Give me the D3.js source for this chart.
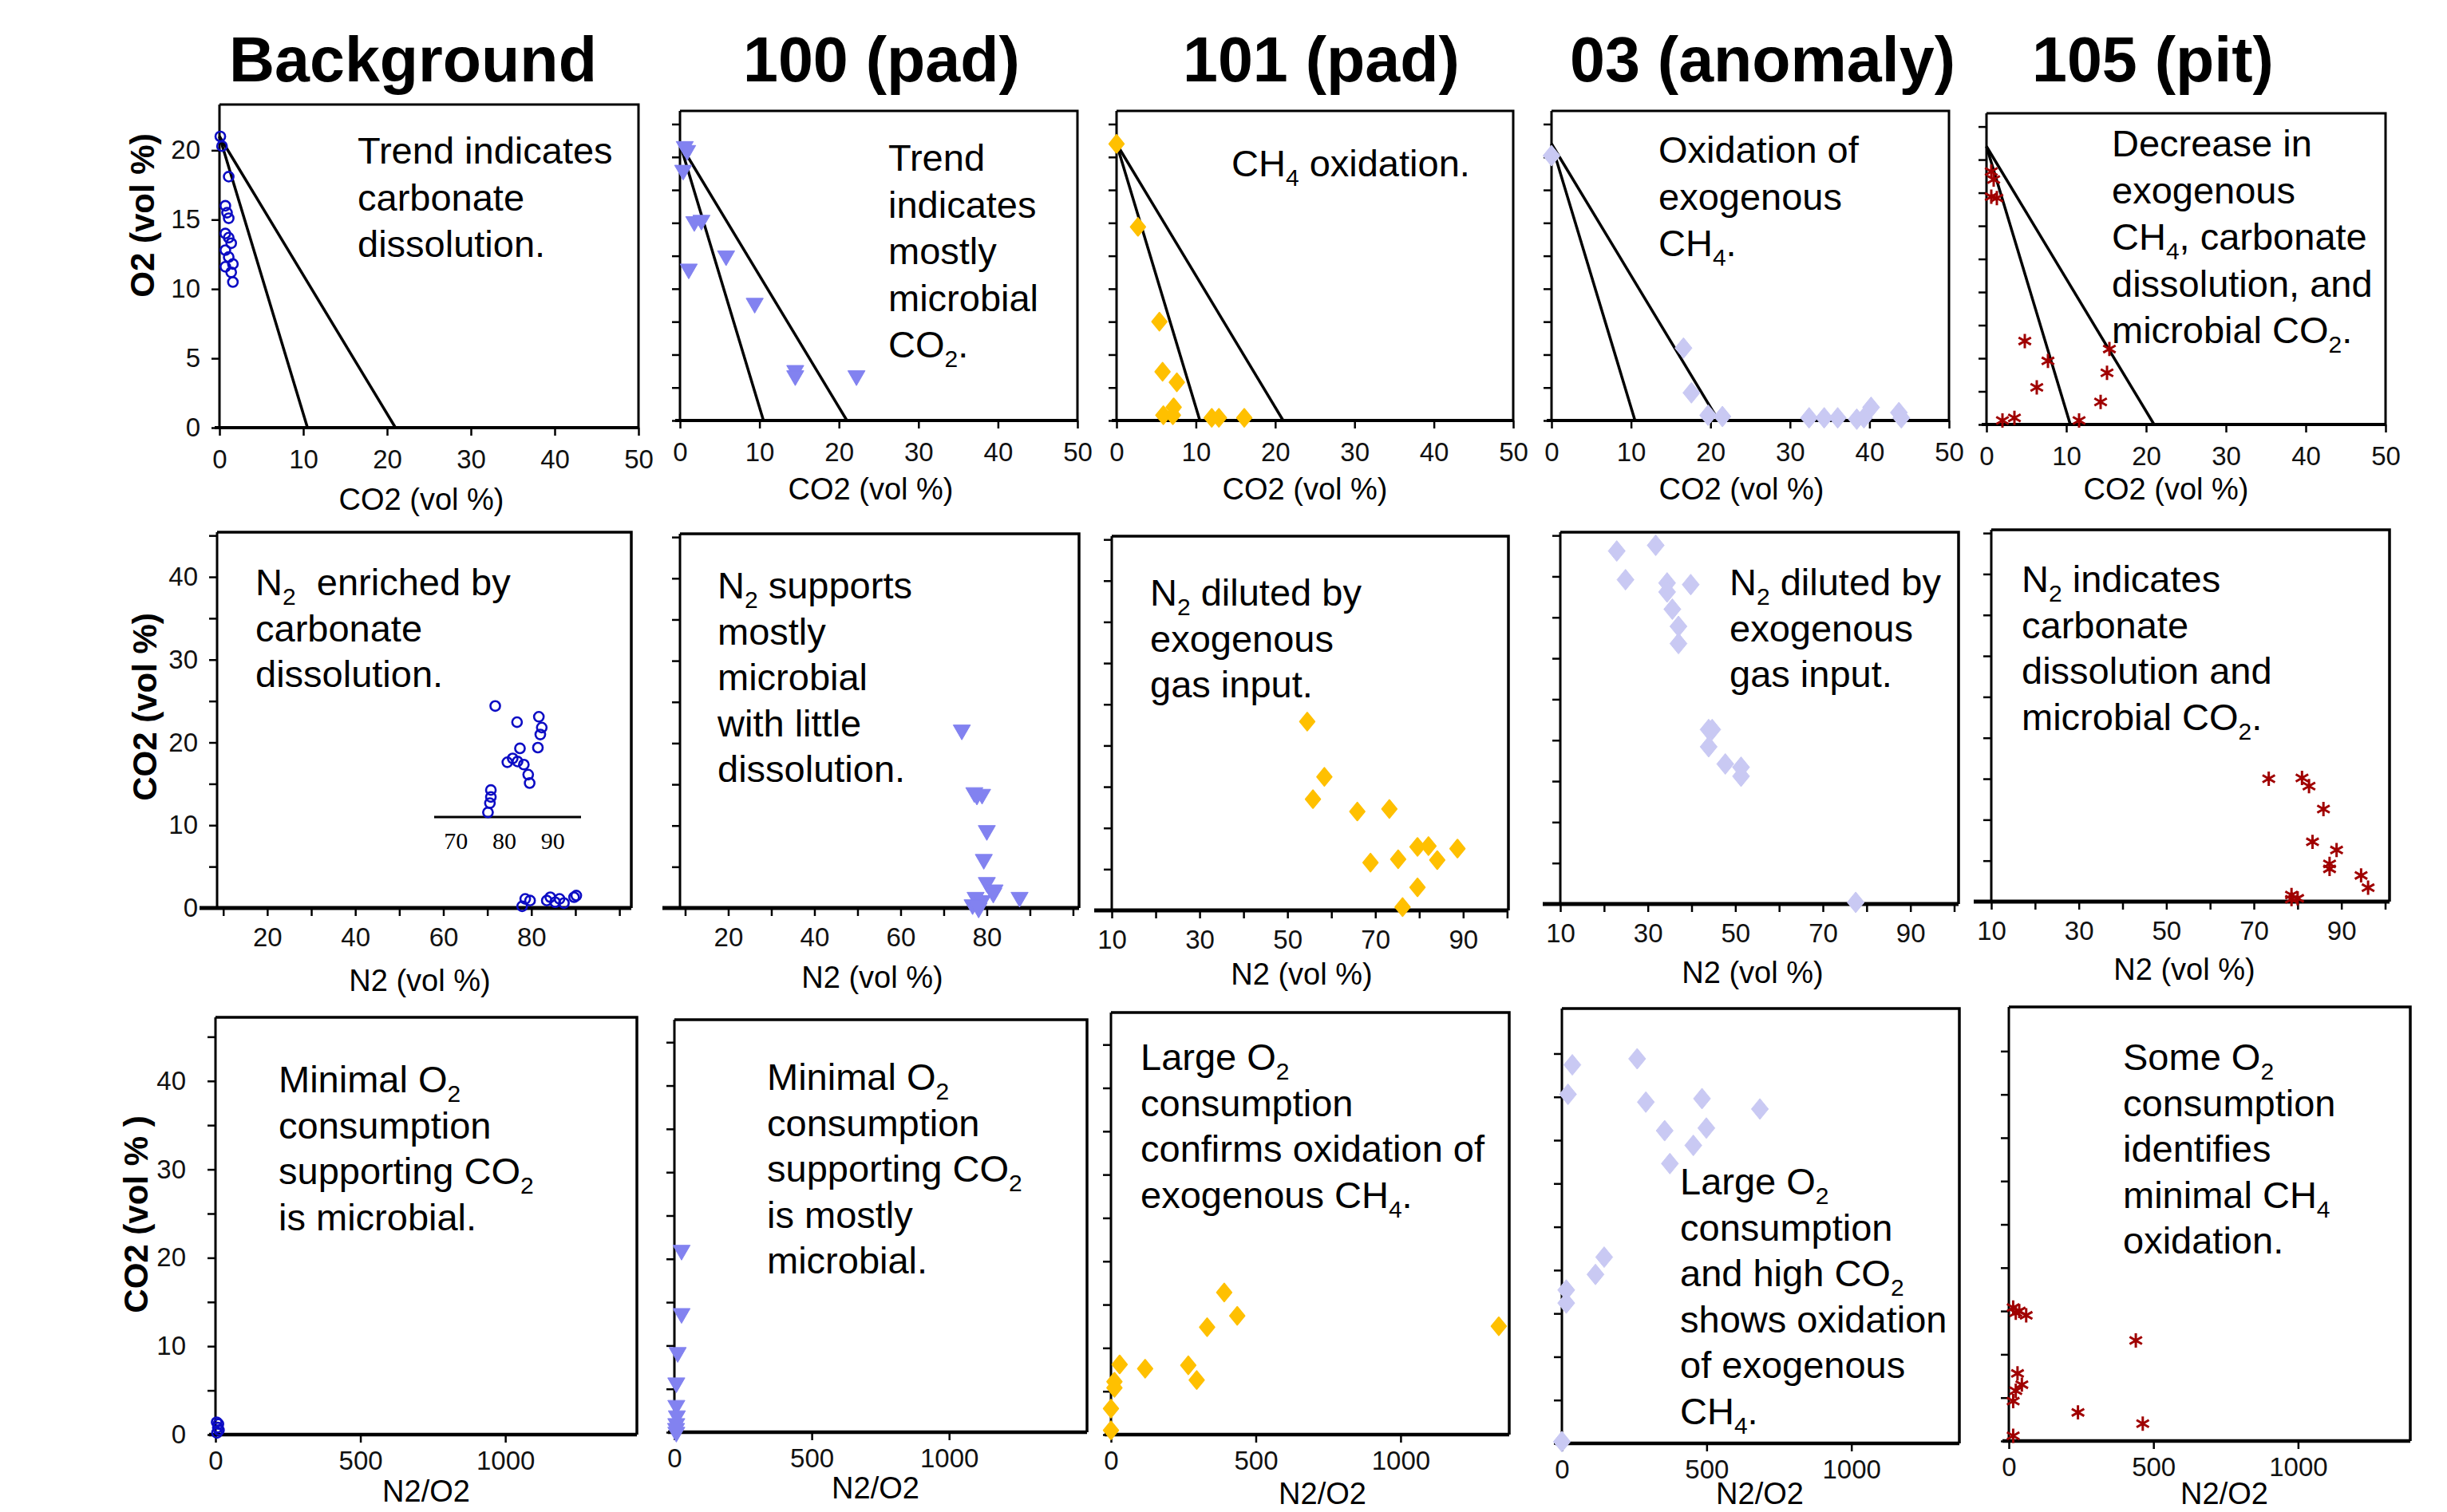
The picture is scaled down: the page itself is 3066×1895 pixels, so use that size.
<!DOCTYPE html>
<html>
<head>
<meta charset="utf-8">
<script src="https://cdn.jsdelivr.net/npm/d3@7"></script>
<style>
  body { margin: 0; background: #fff; }
  svg { display: block; font-family: "Liberation Sans", Arial, sans-serif; }
  .note { font-size: 47px; white-space: pre; }
  .site { font-size: 79px; font-weight: bold; }
  .xtitle { font-size: 38px; }
  .ytitle { font-size: 42px; font-weight: bold; }
</style>
</head>
<body>
<div id="chart"></div>
<script>
// ----- Data -----
const sites = ["Background", "100 (pad)", "101 (pad)", "03 (anomaly)", "105 (pit)"];

// Row 1: [CO2, O2] vol %
const bgCO2O2 = [[0.1,21.0],[0.3,20.3],[1.1,18.1],[0.7,16.0],[0.9,15.5],[1.1,15.1],[0.7,14.0],[1.1,13.7],[1.4,13.3],[0.7,12.8],[1.1,12.3],[1.6,11.8],[0.7,11.6],[1.4,11.2],[1.6,10.5]];
const pad100CO2O2 = [[0.6,20.8],[0.9,20.5],[0.4,19.0],[1.8,15.1],[2.7,15.2],[5.8,12.5],[1.1,11.5],[9.4,8.9],[14.5,3.8],[14.5,3.4],[22.2,3.4]];
const pad101CO2O2 = [[0,21.0],[2.7,14.7],[5.4,7.5],[5.8,3.7],[7.6,2.9],[7.2,1.0],[5.9,0.4],[7.1,0.4],[12.0,0.2],[12.9,0.2],[16.1,0.2]];
const anom03CO2O2 = [[0,20.1],[16.6,5.5],[17.6,2.1],[19.7,0.4],[21.5,0.3],[32.4,0.2],[34.3,0.2],[36.0,0.2],[38.4,0.1],[39.3,0.2],[40.2,1.0],[43.7,0.6],[44.0,0.2]];
const pit105CO2O2 = [[0.6,19.1],[0.9,18.5],[0.6,17.2],[1.3,17.1],[4.8,6.3],[7.7,4.8],[15.4,5.7],[15.1,3.9],[6.3,2.8],[14.3,1.7],[2.0,0.3],[3.5,0.5],[11.6,0.3]];
// air O2 consumed by carbonate dissolution / microbial respiration
const refLines = [[[0, 21], [10.5, 0]], [[0, 21], [21, 0]]];

// Row 2: [N2, CO2] vol %
const bgN2CO2 = [[78.6,1.1],[77.9,0.2],[79.7,0.9],[83.5,0.9],[84.3,1.3],[85.4,0.7],[86.4,1.1],[87.4,0.6],[89.7,1.3],[90.2,1.5]];
const bgInsetN2CO2 = [[78.1,1.44],[82.6,1.23],[87.1,1.30],[87.7,1.16],[87.4,1.07],[86.9,0.90],[83.2,0.89],[81.7,0.76],[80.6,0.71],[82.7,0.72],[84.0,0.68],[84.9,0.55],[85.2,0.44],[77.2,0.35],[77.2,0.26],[77.0,0.18],[76.6,0.06]];
const pad100N2CO2 = [[74.2,21.6],[77.1,14.0],[78.9,13.8],[77.7,13.7],[80.0,9.4],[79.3,5.9],[80.0,3.1],[81.8,2.2],[81.5,1.8],[77.4,1.3],[78.9,0.9],[76.7,0.4],[78.1,0.0],[87.6,1.3]];
const pad101N2CO2 = [[54.5,22.9],[58.4,16.2],[55.8,13.5],[65.9,12.0],[73.2,12.3],[79.6,7.7],[82.1,7.8],[88.7,7.5],[68.9,5.8],[75.2,6.2],[84.1,6.1],[79.6,2.8],[76.2,0.4]];
const anom03N2CO2 = [[22.9,43.1],[31.8,43.8],[24.9,39.6],[34.4,39.2],[34.4,38.1],[39.8,39.0],[35.6,36.0],[37.0,33.9],[37.0,31.8],[43.9,21.3],[44.7,21.3],[43.9,19.2],[47.7,17.1],[51.3,16.7],[51.3,15.6],[77.5,0.2]];
const pit105N2CO2 = [[73.4,15.0],[81.0,15.1],[82.6,14.1],[85.9,11.3],[83.4,7.3],[88.9,6.3],[87.3,4.6],[87.3,4.0],[94.5,3.2],[96.1,1.7],[78.6,0.8],[80.0,0.4],[78.6,0.3]];

// Row 3: [N2/O2, CO2]
const bgRatioCO2 = [[5,0.2],[8,0.8],[10,1.2],[4,1.4],[12,0.5]];
const pad100RatioCO2 = [[26,21.0],[26,13.7],[12,9.2],[7,5.7],[7,3.1],[9,1.9],[7,1.0],[6,0.45],[7,0]];
const pad101RatioCO2 = [[391,16.4],[436,13.7],[332,12.4],[1339,12.5],[30,8.1],[118,7.6],[267,8.0],[296,6.3],[12,6.1],[12,5.4],[0,3.0],[0,0.5]];
const anom03RatioCO2 = [[36,43.7],[21,40.3],[260,44.4],[290,39.4],[484,39.8],[684,38.6],[499,36.4],[355,36.1],[454,34.4],[373,32.3],[146,21.5],[116,19.5],[15,17.7],[15,16.2],[0,0.2]];
const pit105RatioCO2 = [[15,15.4],[36,15.0],[60,14.5],[24,14.8],[439,11.6],[30,7.8],[45,6.5],[24,5.8],[15,4.6],[239,3.3],[463,2.0],[15,0.6]];

// Ticks
const co2Ticks = [0, 10, 20, 30, 40, 50];
const o2Ticks = [0, 5, 10, 15, 20];
const o2MinorTicks = [0, 2.5, 5, 7.5, 10, 12.5, 15, 17.5, 20, 22.5];
const n2Ticks = [10, 20, 30, 40, 50, 60, 70, 80, 90, 100];
const n2LabelsA = [20, 40, 60, 80];
const n2LabelsB = [10, 30, 50, 70, 90];
const co2Ticks5 = [0, 5, 10, 15, 20, 25, 30, 35, 40, 45];
const co2Labels = [0, 10, 20, 30, 40];
const ratioTicks = [0, 500, 1000];
const insetTicks = [70, 80, 90];

// Annotations ({} = subscript)
const notesO2 = [
  ["Trend indicates", "carbonate", "dissolution."],
  ["Trend", "indicates", "mostly", "microbial", "CO{2}."],
  ["CH{4} oxidation."],
  ["Oxidation of", "exogenous", "CH{4}."],
  ["Decrease in", "exogenous", "CH{4}, carbonate", "dissolution, and", "microbial CO{2}."]
];
const notesN2 = [
  ["N{2}  enriched by", "carbonate", "dissolution."],
  ["N{2} supports", "mostly", "microbial", "with little", "dissolution."],
  ["N{2} diluted by", "exogenous", "gas input."],
  ["N{2} diluted by", "exogenous", "gas input."],
  ["N{2} indicates", "carbonate", "dissolution and", "microbial CO{2}."]
];
const notesRatio = [
  ["Minimal O{2}", "consumption", "supporting CO{2}", "is microbial."],
  ["Minimal O{2}", "consumption", "supporting CO{2}", "is mostly", "microbial."],
  ["Large O{2}", "consumption", "confirms oxidation of", "exogenous CH{4}."],
  ["Large O{2}", "consumption", "and high CO{2}", "shows oxidation", "of exogenous", "CH{4}."],
  ["Some O{2}", "consumption", "identifies", "minimal CH{4}", "oxidation."]
];

// ----- Layout -----
const width = 3066, height = 1895;
const siteX = [287, 931, 1482, 1967, 2546];

const rows = [
  {
    series: [bgCO2O2, pad100CO2O2, pad101CO2O2, anom03CO2O2, pit105CO2O2],
    notes: notesO2, refLines: refLines,
    xTitle: "CO2 (vol %)", yTitle: "O2 (vol %)", xTitleSize: 38,
    boxes: [[275,131,800,536],[852,139,1350,527],[1399,139,1896,527],[1944,139,2442,527],[2489,142,2989,532]],
    xDomains: [[0,50],[0,50],[0,50],[0,50],[0,50]],
    yMax: [23.3, 23.5, 23.5, 23.5, 23.5],
    xTicks: co2Ticks, xLabels: [co2Ticks, co2Ticks, co2Ticks, co2Ticks, co2Ticks],
    yTicks: [o2Ticks, o2MinorTicks, o2MinorTicks, o2MinorTicks, o2MinorTicks],
    yLabels: [o2Ticks, [], [], [], []],
    notePos: [[448,205],[1113,214],[1543,221],[2078,204],[2646,196]], noteStep: 58.5,
    xTitlePos: [[528,639],[1091,626],[1635,626],[2182,626],[2714,626]],
    yTitlePos: [193, 270],
    xPad: 18, yPad: 14, axisExt: 6, xAxisW: 4, frameW: 3
  },
  {
    series: [bgN2CO2, pad100N2CO2, pad101N2CO2, anom03N2CO2, pit105N2CO2],
    notes: notesN2,
    xTitle: "N2 (vol %)", yTitle: "CO2 (vol %)", xTitleSize: 38,
    boxes: [[272,667,791,1138],[852,669,1352,1138],[1393,672,1890,1141],[1955,667,2454,1133],[2495,664,2994,1130]],
    xDomains: [[8.6,102.7],[8.8,101.4],[10,100.3],[10,101],[10,101]],
    yMax: [45.4, 45.4, 45.4, 45.4, 45.4],
    xTicks: n2Ticks, xLabels: [n2LabelsA, n2LabelsA, n2LabelsB, n2LabelsB, n2LabelsB],
    yTicks: [co2Ticks5, co2Ticks5, co2Ticks5, co2Ticks5, co2Ticks5],
    yLabels: [co2Labels, [], [], [], []],
    notePos: [[320,746],[899,750],[1441,759],[2167,746],[2533,742]], noteStep: 57.5,
    xTitlePos: [[526,1242],[1093,1238],[1631,1234],[2196,1232],[2737,1228]],
    yTitlePos: [196, 886],
    xPad: 15, yPad: 14, axisExt: 22, xAxisW: 5, frameW: 3.5
  },
  {
    series: [bgRatioCO2, pad100RatioCO2, pad101RatioCO2, anom03RatioCO2, pit105RatioCO2],
    notes: notesRatio,
    xTitle: "N2/O2", yTitle: "CO2 (vol % )", xTitleSize: 36,
    boxes: [[270,1275,798,1798],[845,1278,1362,1795],[1392,1269,1891,1798],[1957,1264,2455,1809],[2517,1262,3020,1806]],
    xDomains: [[0,1454],[0,1502],[0,1375],[0,1373],[0,1388]],
    yMax: [47.2, 47.6, 48.7, 50.2, 50.1],
    xTicks: ratioTicks, xLabels: [ratioTicks, ratioTicks, ratioTicks, ratioTicks, ratioTicks],
    yTicks: [co2Ticks5, co2Ticks5, co2Ticks5, co2Ticks5, co2Ticks5],
    yLabels: [co2Labels, [], [], [], []],
    notePos: [[349,1369],[961,1366],[1429,1341],[2105,1497],[2660,1341]], noteStep: 57.5,
    xTitlePos: [[534,1882],[1097,1878],[1657,1885],[2205,1885],[2787,1885]],
    yTitlePos: [185, 1522],
    xPad: 11, yPad: 27, axisExt: 8, xAxisW: 4.5, frameW: 3.5
  }
];

// ----- Marker shapes -----
const diamond = {
  draw(ctx, size) {
    const r = Math.sqrt(size) / 2;
    ctx.moveTo(0, -r * 1.1);
    ctx.lineTo(r * 0.9, 0);
    ctx.lineTo(0, r * 1.1);
    ctx.lineTo(-r * 0.9, 0);
    ctx.closePath();
  }
};
const asterisk = {
  draw(ctx, size) {
    const r = Math.sqrt(size) / 2;
    for (let k = 0; k < 3; k++) {
      const a = Math.PI / 2 + k * Math.PI / 3;
      ctx.moveTo(r * Math.cos(a), r * Math.sin(a));
      ctx.lineTo(-r * Math.cos(a), -r * Math.sin(a));
    }
  }
};
const pointStyles = [
  { shape: d3.symbolCircle, size: 115, fill: "none", stroke: "#0c0cc4", width: 2.6, rotate: 0 },
  { shape: d3.symbolTriangle, size: 200, fill: "#8282f0", stroke: "#8282f0", width: 1, rotate: 180 },
  { shape: diamond, size: 420, fill: "#ffc000", stroke: "#ffc000", width: 2, rotate: 0 },
  { shape: diamond, size: 560, fill: "#c9c9f3", stroke: "#c9c9f3", width: 1, rotate: 0 },
  { shape: asterisk, size: 320, fill: "none", stroke: "#a00000", width: 3, rotate: 0 }
];

// ----- SVG setup -----
const svg = d3.select("#chart")
  .append("svg")
  .attr("width", width)
  .attr("height", height)
  .attr("viewBox", [0, 0, width, height]);

svg.append("rect").attr("width", width).attr("height", height).attr("fill", "#fff");

svg.selectAll("text.site")
  .data(sites)
  .join("text")
  .attr("class", "site")
  .attr("x", (d, i) => siteX[i])
  .attr("y", 102)
  .text(d => d);

// text with {} subscripts
function writeRich(sel, str) {
  let shifted = false;
  str.split(/(\{[^}]*\})/).filter(s => s).forEach(s => {
    if (s[0] === "{") {
      sel.append("tspan").attr("dy", 12).attr("font-size", 30).text(s.slice(1, -1));
      shifted = true;
    } else {
      const ts = sel.append("tspan").text(s);
      if (shifted) { ts.attr("dy", -12); shifted = false; }
    }
  });
}

function styleAxis(ax) {
  ax.attr("font-size", null).attr("font-family", null);
  ax.select(".domain").remove();
  ax.selectAll(".tick line").attr("stroke", "#000").attr("stroke-width", 2.5);
  ax.selectAll(".tick text").attr("font-size", 33).attr("fill", "#111");
}

// ----- Draw one panel -----
function drawPanel(row, i) {
  const [l, t, r, b] = row.boxes[i];
  const x = d3.scaleLinear().domain(row.xDomains[i]).range([l, r]);
  const y = d3.scaleLinear().domain([0, row.yMax[i]]).range([b, t]);
  const g = svg.append("g");

  // frame (top + right)
  g.append("path")
    .attr("d", `M${l},${t}H${r}V${b}`)
    .attr("fill", "none")
    .attr("stroke", "#000")
    .attr("stroke-width", row.frameW);

  const xLab = row.xLabels[i];
  const gx = g.append("g")
    .attr("transform", `translate(0,${b})`)
    .call(d3.axisBottom(x)
      .tickValues(row.xTicks)
      .tickSize(10).tickSizeOuter(0).tickPadding(row.xPad)
      .tickFormat(d => xLab.includes(d) ? d : ""));
  styleAxis(gx);

  const yLab = row.yLabels[i];
  const gy = g.append("g")
    .attr("transform", `translate(${l},0)`)
    .call(d3.axisLeft(y)
      .tickValues(row.yTicks[i])
      .tickSize(10).tickSizeOuter(0).tickPadding(row.yPad)
      .tickFormat(d => yLab.includes(d) ? d : ""));
  styleAxis(gy);

  g.append("line")
    .attr("x1", l).attr("x2", l).attr("y1", t).attr("y2", b)
    .attr("stroke", "#000").attr("stroke-width", 3);
  g.append("line")
    .attr("x1", l - row.axisExt).attr("x2", r).attr("y1", b).attr("y2", b)
    .attr("stroke", "#000").attr("stroke-width", row.xAxisW);

  if (row.refLines) {
    g.selectAll("path.ref")
      .data(row.refLines)
      .join("path")
      .attr("class", "ref")
      .attr("d", d3.line().x(d => x(d[0])).y(d => y(d[1])))
      .attr("fill", "none")
      .attr("stroke", "#000")
      .attr("stroke-width", 3.5);
  }

  const st = pointStyles[i];
  const sym = d3.symbol().type(st.shape).size(st.size);
  g.selectAll("path.pt")
    .data(row.series[i])
    .join("path")
    .attr("class", "pt")
    .attr("transform", d => `translate(${x(d[0])},${y(d[1])}) rotate(${st.rotate})`)
    .attr("d", sym)
    .attr("fill", st.fill)
    .attr("stroke", st.stroke)
    .attr("stroke-width", st.width)
    .attr("stroke-linejoin", "round");

  const [nx, ny] = row.notePos[i];
  row.notes[i].forEach((line, k) => {
    const txt = g.append("text")
      .attr("class", "note")
      .attr("x", nx)
      .attr("y", ny + k * row.noteStep);
    writeRich(txt, line);
  });

  g.append("text")
    .attr("class", "xtitle")
    .attr("font-size", row.xTitleSize)
    .attr("text-anchor", "middle")
    .attr("x", row.xTitlePos[i][0])
    .attr("y", row.xTitlePos[i][1])
    .text(row.xTitle);

  if (i === 0) {
    g.append("text")
      .attr("class", "ytitle")
      .attr("text-anchor", "middle")
      .attr("transform", `translate(${row.yTitlePos[0]},${row.yTitlePos[1]}) rotate(-90)`)
      .text(row.yTitle);
  }
}

rows.forEach(row => row.boxes.forEach((box, i) => drawPanel(row, i)));

// ----- Inset of background N2 points -----
const ix = d3.scaleLinear().domain([65.5, 95.8]).range([544, 728]);
const iy = d3.scaleLinear().domain([0, 1.5]).range([1024, 879]);
const inset = svg.append("g");
inset.append("line")
  .attr("x1", ix.range()[0]).attr("x2", ix.range()[1])
  .attr("y1", iy(0)).attr("y2", iy(0))
  .attr("stroke", "#000").attr("stroke-width", 3);
inset.selectAll("text")
  .data(insetTicks)
  .join("text")
  .attr("x", d => ix(d))
  .attr("y", iy(0) + 40)
  .attr("text-anchor", "middle")
  .attr("font-family", "'Liberation Serif', 'Times New Roman', serif")
  .attr("font-size", 30)
  .text(d => d);
inset.selectAll("path")
  .data(bgInsetN2CO2)
  .join("path")
  .attr("transform", d => `translate(${ix(d[0])},${iy(d[1])})`)
  .attr("d", d3.symbol().type(d3.symbolCircle).size(115))
  .attr("fill", "none")
  .attr("stroke", pointStyles[0].stroke)
  .attr("stroke-width", 2.6);
</script>
</body>
</html>
